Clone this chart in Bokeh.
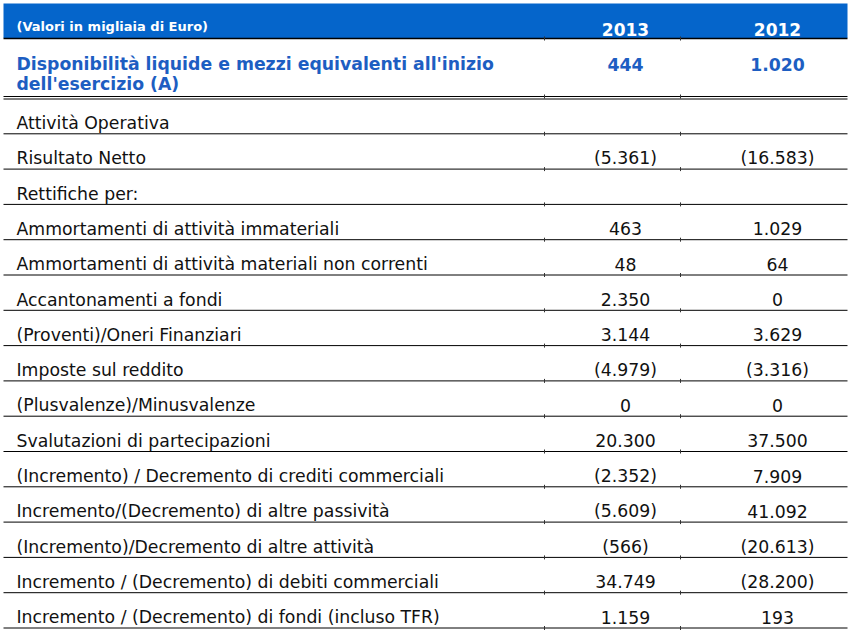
from bokeh.plotting import figure
from bokeh.models import Range1d, ColumnDataSource
from bokeh.core.properties import value
from bokeh.embed import file_html
from bokeh.resources import INLINE

# ---- data ----
header_label = "(Valori in migliaia di Euro)"
years = ["2013", "2012"]
title_lines = ["Disponibilità liquide e mezzi equivalenti all'inizio", "dell'esercizio (A)"]
title_2013 = 444
title_2012 = 1020

labels = [
    "Attività Operativa",
    "Risultato Netto",
    "Rettifiche per:",
    "Ammortamenti di attività immateriali",
    "Ammortamenti di attività materiali non correnti",
    "Accantonamenti a fondi",
    "(Proventi)/Oneri Finanziari",
    "Imposte sul reddito",
    "(Plusvalenze)/Minusvalenze",
    "Svalutazioni di partecipazioni",
    "(Incremento) / Decremento di crediti commerciali",
    "Incremento/(Decremento) di altre passività",
    "(Incremento)/Decremento di altre attività",
    "Incremento / (Decremento) di debiti commerciali",
    "Incremento / (Decremento) di fondi (incluso TFR)",
]
values_2013 = [None, -5361, None, 463, 48, 2350, 3144, -4979, 0, 20300, -2352, -5609, -566, 34749, 1159]
values_2012 = [None, -16583, None, 1029, 64, 0, 3629, -3316, 0, 37500, 7909, 41092, -20613, -28200, 193]


def fmt(v):
    if v is None:
        return ""
    s = f"{abs(v):,}".replace(",", ".")
    return f"({s})" if v < 0 else s


FONT = value("DejaVu Sans")
BLUE_BAR = "#0565CB"
BLUE_TXT = "#1D5EC2"

W, H = 852, 638
p = figure(width=W, height=H, output_backend="svg", toolbar_location=None,
           x_range=Range1d(0, W), y_range=Range1d(H, 0),
           min_border=0)
p.axis.visible = False
p.grid.visible = False
p.outline_line_color = None
p.background_fill_color = "white"
p.border_fill_color = "white"

X0, X1 = 3, 847
COL1, COL2 = 625, 777
DIV = [544, 680]

# header bar
p.quad(left=[X0], right=[X1], top=[3], bottom=[37.5], fill_color=BLUE_BAR, line_color=None)
p.segment(x0=[X0], x1=[X1], y0=[38], y1=[38], line_color="black", line_width=1.5)
p.text(x=[16], y=[26], text=[header_label], text_font=FONT, text_font_size="13px",
       text_font_style="bold", text_color="white", text_baseline="middle")
p.text(x=[COL1, COL2], y=[29, 29], text=years, text_font=FONT, text_font_size="17px",
       text_font_style="bold", text_color="white", text_baseline="middle", text_align="center")

# title row
p.text(x=[16, 16], y=[63.5, 83.5], text=title_lines, text_font=FONT, text_font_size="17.3px",
       text_font_style="bold", text_color=BLUE_TXT, text_baseline="middle")
p.text(x=[COL1, COL2], y=[64, 64], text=[fmt(title_2013), fmt(title_2012)], text_font=FONT,
       text_font_size="17.3px", text_font_style="bold", text_color=BLUE_TXT,
       text_baseline="middle", text_align="center")
p.segment(x0=[X0, X0], x1=[X1, X1], y0=[96, 98.5], y1=[96, 98.5], line_color="black", line_width=1)

# body rows
TOP = 98.0
RH = 35.3
n = len(labels)
line_y = [TOP + RH * (i + 1) for i in range(n)]
mid_y = [y - 10.8 for y in line_y]

src = ColumnDataSource(dict(
    label=labels,
    v13=[fmt(v) for v in values_2013],
    v12=[fmt(v) for v in values_2012],
    ly=line_y,
    my=mid_y,
    x0=[X0] * n, x1=[X1] * n, xl=[16] * n, c1=[COL1] * n, c2=[COL2] * n,
))
p.segment(x0="x0", x1="x1", y0="ly", y1="ly", source=src, line_color="black", line_width=1)
p.text(x="xl", y="my", text="label", source=src, text_font=FONT, text_font_size="17.3px",
       text_color="#111111", text_baseline="middle")
p.text(x="c1", y="my", text="v13", source=src, text_font=FONT, text_font_size="17.3px",
       text_color="#111111", text_baseline="middle", text_align="center")
p.text(x="c2", y="my", text="v12", source=src, text_font=FONT, text_font_size="17.3px",
       text_color="#111111", text_baseline="middle", text_align="center")

# small column divider ticks on each rule
tick_y = [38, 96] + line_y
tx, ty0, ty1 = [], [], []
for y in tick_y:
    for d in DIV:
        tx.append(d); ty0.append(y - 2); ty1.append(y + 2)
p.segment(x0=tx, x1=tx, y0=ty0, y1=ty1, line_color="#333333", line_width=1)

open("out.html", "w").write(file_html(p, INLINE))
